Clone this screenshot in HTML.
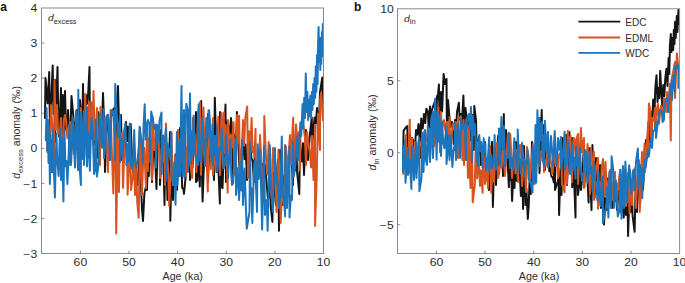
<!DOCTYPE html>
<html><head><meta charset="utf-8"><title>d-excess and d-ln anomalies</title>
<style>html,body{margin:0;padding:0;background:#fff}svg{display:block}text{font-family:"Liberation Sans",sans-serif}</style></head><body>
<svg width="685" height="283" viewBox="0 0 685 283">
<rect width="685" height="283" fill="#fff"/>
<clipPath id="ca"><rect x="41.5" y="8.0" width="282.0" height="245.5"/></clipPath>
<g clip-path="url(#ca)" fill="none" stroke-width="2" stroke-linejoin="round" stroke-linecap="round">
<path stroke="#151515" d="M45.0 118.0 L45.5 78.0 L47.6 103.3 L49.2 72.0 L50.0 135.0 L51.0 105.9 L52.7 65.5 L53.5 114.1 L55.0 80.0 L55.0 142.0 L57.5 67.0 L58.2 110.7 L59.2 136.4 L61.0 88.0 L62.0 150.0 L62.8 95.0 L63.9 129.1 L65.0 91.0 L66.0 129.2 L67.2 132.2 L68.0 110.0 L70.0 152.0 L70.7 123.3 L71.5 96.0 L73.3 115.8 L74.4 132.5 L75.2 127.8 L77.0 110.0 L77.2 150.0 L79.0 145.4 L80.0 100.0 L81.1 113.4 L82.5 125.5 L83.0 84.0 L84.0 145.0 L86.0 95.0 L87.0 104.0 L88.2 93.2 L89.5 67.0 L90.0 140.0 L91.7 137.7 L93.0 105.0 L93.7 145.2 L95.1 137.3 L95.9 137.8 L98.0 112.0 L98.0 158.0 L99.4 148.9 L100.6 128.1 L101.7 134.6 L103.0 93.0 L104.2 124.7 L105.0 172.0 L106.3 136.5 L108.0 118.0 L108.5 120.5 L110.0 160.0 L110.9 116.8 L112.2 114.7 L113.0 110.0 L114.3 107.7 L115.5 158.0 L116.9 113.1 L118.0 86.0 L118.9 120.5 L120.3 140.3 L121.0 115.0 L122.0 160.0 L123.9 158.5 L124.9 128.4 L126.0 122.0 L127.0 141.1 L128.1 126.7 L130.0 168.0 L130.7 124.0 L131.6 148.4 L133.1 171.9 L134.0 158.8 L135.3 174.1 L137.0 185.0 L137.7 184.6 L138.7 166.1 L140.0 128.0 L140.9 183.7 L142.0 208.7 L143.0 221.0 L144.4 193.4 L145.8 187.2 L147.0 190.0 L147.9 161.3 L148.8 175.9 L150.0 132.0 L151.3 159.0 L152.0 182.0 L153.6 140.3 L154.6 146.1 L156.5 189.0 L157.1 162.4 L158.0 134.5 L160.0 130.0 L160.0 185.0 L161.7 144.9 L163.0 144.4 L164.5 205.0 L165.3 148.1 L166.3 159.5 L167.5 200.0 L168.8 164.6 L170.0 132.0 L170.3 220.7 L171.8 157.5 L173.0 200.0 L174.5 167.2 L175.5 154.5 L177.0 190.0 L177.9 162.6 L179.0 176.1 L180.0 128.0 L181.3 161.1 L182.2 188.0 L183.3 188.5 L184.0 193.8 L185.6 177.3 L186.8 161.9 L188.3 168.8 L190.0 122.0 L190.0 180.0 L191.7 154.6 L192.5 167.1 L193.7 148.9 L196.0 112.0 L196.0 182.0 L197.3 180.4 L198.2 146.2 L199.8 186.6 L201.2 101.0 L202.1 181.1 L202.6 201.5 L204.4 151.1 L205.5 146.8 L206.5 155.7 L208.0 114.0 L208.0 182.0 L209.8 133.4 L210.9 157.4 L212.1 144.9 L214.0 180.0 L214.8 97.8 L215.7 126.4 L216.6 172.0 L217.8 155.1 L219.9 203.6 L220.0 112.0 L221.3 186.0 L222.5 188.3 L223.9 149.9 L225.5 104.4 L226.0 182.0 L227.4 121.4 L228.5 126.5 L229.4 139.7 L231.0 118.0 L231.9 126.6 L233.0 178.0 L233.9 134.1 L235.0 143.8 L236.2 141.1 L236.9 112.0 L238.8 154.6 L240.0 178.0 L240.9 165.6 L242.4 153.4 L243.5 134.0 L244.4 159.2 L245.6 144.6 L247.0 180.0 L248.0 156.8 L248.9 155.4 L250.0 140.0 L251.3 157.5 L252.6 160.8 L254.0 182.0 L254.9 149.5 L255.7 177.5 L257.0 161.4 L258.4 176.6 L259.2 167.4 L260.0 145.0 L262.0 195.0 L263.1 163.7 L263.9 170.5 L264.9 164.6 L266.4 180.5 L268.0 200.0 L268.8 195.9 L270.0 150.0 L270.7 206.1 L272.4 222.0 L273.3 173.1 L274.6 191.6 L276.0 205.0 L276.7 174.4 L278.0 159.9 L279.0 230.7 L280.0 150.0 L281.2 172.3 L283.0 205.0 L283.6 177.6 L284.9 174.6 L286.1 182.5 L286.9 172.5 L288.0 195.0 L289.1 166.0 L290.0 145.0 L291.4 156.4 L293.0 185.0 L293.7 146.3 L295.3 170.5 L296.4 145.3 L297.1 171.9 L299.3 194.0 L300.0 140.0 L300.6 151.4 L302.1 161.6 L303.0 143.3 L304.0 175.0 L306.0 130.0 L306.7 144.7 L308.0 160.0 L309.1 143.8 L310.0 133.0 L311.8 117.5 L312.0 150.0 L313.3 129.7 L314.6 117.6 L315.8 123.2 L317.0 108.0 L318.0 135.0 L319.2 115.6 L320.0 92.0 L322.3 77.5 L323.0 120.0"/>
<path stroke="#D8531E" d="M47.0 125.0 L47.0 150.0 L48.8 131.8 L49.9 142.0 L51.0 105.0 L52.2 124.1 L54.0 165.0 L54.5 80.5 L55.6 129.4 L57.0 105.0 L58.1 133.7 L59.2 130.1 L60.1 132.1 L61.0 118.0 L62.0 170.0 L63.9 119.7 L65.0 115.0 L66.0 120.2 L67.4 138.2 L68.1 131.3 L70.0 122.0 L70.0 165.0 L71.8 128.4 L72.7 145.7 L73.9 153.9 L75.3 133.7 L76.0 118.0 L77.4 145.3 L78.6 137.9 L80.0 160.0 L81.0 108.0 L82.0 143.0 L83.4 131.9 L84.4 143.7 L85.2 93.7 L86.7 156.3 L88.0 124.7 L89.0 102.0 L90.0 162.0 L91.5 102.4 L92.7 133.2 L93.5 91.0 L95.0 139.8 L95.9 135.5 L97.0 108.0 L98.2 141.1 L100.0 165.0 L100.4 107.0 L101.7 140.8 L103.1 133.7 L104.0 144.5 L105.0 118.0 L106.2 122.0 L108.0 172.0 L108.6 145.2 L109.5 146.0 L110.6 110.3 L111.8 150.3 L113.3 193.5 L115.0 122.0 L115.7 133.0 L116.2 233.4 L117.9 132.8 L119.0 192.0 L120.0 128.0 L121.3 147.4 L122.3 133.3 L123.0 188.0 L124.9 137.4 L125.8 142.6 L127.0 147.9 L127.6 194.8 L129.2 161.6 L130.0 132.0 L131.0 190.0 L132.9 175.5 L133.8 152.5 L135.0 195.0 L136.3 166.5 L137.2 202.0 L138.7 217.8 L140.0 130.0 L140.9 164.9 L142.0 195.0 L143.1 161.1 L144.2 147.7 L146.0 188.0 L147.0 125.0 L147.9 171.0 L148.7 138.6 L149.9 139.6 L150.9 139.9 L152.0 180.0 L153.0 117.5 L154.5 150.1 L155.7 147.0 L157.0 135.9 L158.0 126.0 L159.0 148.2 L160.0 178.0 L161.6 148.6 L162.5 161.6 L164.0 143.7 L165.0 185.0 L165.9 123.4 L167.3 154.2 L168.3 175.6 L169.2 205.6 L170.7 174.4 L171.4 132.0 L173.0 185.0 L174.4 179.3 L175.3 156.1 L176.5 164.9 L178.0 130.0 L178.9 151.7 L180.0 175.0 L180.9 147.7 L182.2 159.7 L183.3 158.2 L185.0 128.0 L186.0 176.0 L186.7 154.4 L187.8 144.9 L188.9 153.1 L190.1 163.0 L192.2 178.0 L193.0 118.0 L193.6 131.9 L194.7 134.4 L196.4 172.0 L197.0 145.9 L198.2 111.1 L199.9 102.3 L201.0 175.0 L201.8 134.4 L203.5 107.5 L204.3 143.5 L205.0 128.3 L206.2 149.2 L207.8 191.6 L208.5 110.2 L210.0 138.7 L210.8 169.1 L213.0 118.0 L213.0 175.0 L214.5 158.6 L215.3 154.8 L216.6 166.7 L218.3 116.8 L218.8 137.6 L220.0 175.0 L221.4 113.0 L222.5 151.8 L223.8 112.4 L224.5 153.3 L225.7 125.0 L227.7 192.7 L228.0 120.0 L229.2 145.5 L230.7 135.0 L231.6 148.0 L233.6 122.3 L234.0 175.0 L235.2 139.2 L236.5 148.1 L237.0 115.0 L238.4 143.3 L239.1 115.7 L240.0 176.0 L242.0 145.2 L243.0 120.0 L244.1 145.8 L245.3 118.0 L247.2 106.4 L248.0 178.0 L249.0 131.2 L250.2 153.1 L251.6 117.9 L252.6 152.6 L253.4 147.0 L254.6 156.8 L255.5 128.8 L256.0 182.0 L258.1 168.9 L259.4 168.9 L260.0 135.0 L261.7 167.5 L262.5 176.5 L264.0 190.0 L264.3 116.0 L266.0 157.5 L267.4 174.5 L268.7 142.0 L269.5 165.3 L270.7 191.7 L272.0 200.0 L273.0 148.0 L274.4 159.0 L275.5 168.9 L276.5 212.0 L277.7 177.8 L278.5 149.6 L279.7 183.3 L280.7 223.0 L282.3 185.5 L284.0 205.0 L285.0 145.0 L285.9 147.1 L287.1 159.1 L288.0 185.0 L289.3 144.4 L290.0 135.0 L291.4 163.9 L292.5 130.4 L293.2 117.7 L294.0 176.0 L296.0 124.5 L297.2 138.7 L299.0 132.0 L300.0 170.0 L300.5 133.9 L301.9 127.4 L302.6 122.3 L303.9 128.1 L305.1 139.9 L306.0 165.0 L307.0 132.0 L308.9 147.3 L310.0 153.2 L311.0 167.5 L312.0 136.0 L313.5 180.0 L315.0 125.0 L315.1 225.9 L316.8 175.0 L318.0 113.5 L320.0 150.0 L320.1 100.4 L321.2 92.8 L323.0 120.0"/>
<path stroke="#1C75BC" d="M45.8 140.0 L46.6 108.0 L47.3 152.0 L47.9 120.0 L48.5 163.0 L49.2 128.0 L49.9 184.0 L50.6 135.0 L51.3 172.0 L52.0 140.0 L52.5 172.0 L53.0 130.0 L53.7 165.3 L54.9 197.5 L56.4 134.0 L57.1 156.4 L58.6 176.0 L60.0 128.0 L61.0 180.0 L62.0 137.5 L63.4 201.4 L64.5 131.0 L65.4 166.2 L66.4 161.0 L67.4 184.0 L68.7 153.9 L69.6 124.5 L71.0 165.0 L72.1 142.3 L72.8 118.0 L75.0 167.5 L76.0 111.0 L78.0 170.0 L78.3 89.8 L79.4 163.9 L80.9 185.0 L81.0 112.0 L82.8 159.0 L83.8 111.0 L84.0 165.0 L87.0 107.0 L87.0 166.4 L88.4 132.4 L89.9 170.8 L90.5 137.1 L91.5 118.0 L92.9 133.1 L94.0 174.0 L95.1 169.7 L95.8 120.0 L96.9 176.5 L99.0 161.0 L99.6 113.5 L100.9 131.9 L102.1 147.7 L103.5 109.0 L104.0 158.0 L105.6 144.3 L106.5 116.2 L107.9 114.6 L109.0 131.5 L110.0 160.0 L111.6 110.0 L112.6 114.0 L113.7 110.8 L115.0 160.0 L115.2 84.0 L117.0 120.0 L118.3 136.4 L120.0 115.7 L120.0 162.0 L121.5 138.8 L122.7 156.4 L124.2 131.0 L125.4 123.4 L126.5 165.3 L127.5 144.2 L128.7 161.5 L129.8 123.4 L130.9 164.9 L132.0 168.6 L133.0 162.1 L134.2 130.0 L135.3 162.5 L136.3 167.5 L137.6 160.0 L139.0 143.5 L139.6 126.7 L141.5 141.6 L142.9 163.0 L143.6 125.4 L144.7 104.3 L145.7 139.6 L147.2 123.0 L148.0 120.0 L149.4 124.6 L150.0 162.0 L151.2 111.5 L152.9 119.6 L154.0 129.0 L156.0 124.5 L156.0 167.5 L157.3 125.1 L158.5 142.1 L159.5 120.8 L161.5 112.4 L161.5 174.0 L163.2 135.6 L164.5 144.9 L165.9 128.8 L165.9 180.7 L167.5 143.6 L168.8 150.5 L170.2 159.4 L171.4 133.2 L171.4 176.3 L173.5 185.0 L174.5 162.6 L175.5 204.8 L176.9 132.0 L177.5 185.0 L179.3 139.2 L180.0 176.0 L181.5 86.0 L182.5 176.0 L184.0 110.0 L184.5 178.0 L186.3 103.8 L188.0 112.0 L188.0 172.0 L190.0 93.5 L191.0 163.0 L191.8 131.4 L192.8 155.9 L193.6 115.7 L195.1 153.2 L196.7 160.6 L198.0 165.0 L198.6 104.5 L199.7 159.6 L200.9 161.7 L202.0 118.0 L203.5 140.9 L204.4 156.4 L205.0 166.0 L206.3 117.9 L207.8 137.6 L209.1 110.3 L210.1 123.3 L211.5 161.4 L212.8 124.5 L212.8 165.0 L214.8 135.9 L216.1 160.2 L217.0 128.0 L217.2 172.0 L219.4 147.7 L220.8 151.2 L221.6 128.8 L223.1 158.1 L223.8 168.0 L225.4 163.5 L226.0 135.0 L227.4 155.7 L228.0 178.0 L230.4 139.8 L231.2 174.4 L232.0 185.0 L233.2 183.1 L234.3 155.8 L236.0 138.0 L236.0 195.0 L237.6 167.9 L239.1 200.0 L240.3 162.3 L241.5 190.6 L242.0 140.0 L243.0 205.0 L244.7 168.5 L245.9 207.9 L246.8 228.7 L249.5 212.0 L250.0 142.0 L250.6 186.9 L251.5 189.0 L252.3 223.0 L254.1 164.6 L255.0 160.4 L257.0 212.0 L257.7 144.2 L258.7 178.9 L259.5 150.2 L260.6 168.0 L262.1 229.6 L263.1 190.0 L264.0 146.0 L265.0 215.0 L266.8 200.1 L267.6 230.7 L269.1 167.5 L269.8 145.3 L271.2 190.1 L272.1 202.4 L273.0 212.0 L275.0 148.0 L275.6 183.8 L276.7 171.8 L278.1 188.6 L279.0 208.0 L280.2 196.6 L281.8 136.5 L282.7 197.9 L283.9 195.7 L285.1 216.5 L285.5 146.0 L287.0 208.0 L289.5 146.4 L289.5 217.6 L290.9 195.8 L292.0 200.0 L293.0 142.0 L294.0 175.0 L295.3 164.1 L296.3 148.8 L297.1 136.5 L298.0 160.0 L300.4 122.3 L301.2 136.0 L302.6 104.0 L303.4 128.0 L304.2 98.0 L305.0 118.0 L305.8 73.4 L306.6 112.0 L307.4 92.0 L308.2 120.0 L309.0 100.0 L309.7 116.0 L310.3 96.0 L311.0 118.0 L311.8 92.0 L312.5 110.0 L313.2 84.0 L313.9 104.0 L314.5 78.0 L315.2 98.0 L315.8 66.6 L316.4 92.0 L317.0 55.0 L317.6 84.0 L318.1 44.0 L318.6 26.9 L319.2 62.0 L319.8 40.0 L320.3 70.0 L320.7 38.0 L321.3 64.0 L321.9 32.0 L322.4 56.0 L322.8 24.0 L323.2 50.0"/>
</g>
<clipPath id="cb"><rect x="397.5" y="8.8" width="282.1" height="244.7"/></clipPath>
<g clip-path="url(#cb)" fill="none" stroke-width="2" stroke-linejoin="round" stroke-linecap="round">
<path stroke="#151515" d="M403.0 165.0 L403.6 130.7 L405.5 128.0 L407.3 126.0 L407.9 157.1 L408.8 157.8 L410.0 134.0 L410.0 162.0 L412.0 138.0 L413.5 141.5 L414.8 152.3 L416.0 130.0 L417.2 134.7 L418.5 124.0 L419.1 125.3 L420.0 158.0 L421.2 118.5 L422.7 128.6 L424.0 114.0 L425.3 123.0 L426.3 108.8 L428.0 112.0 L428.6 127.3 L430.0 106.4 L430.0 150.0 L431.7 111.1 L432.5 108.0 L435.5 99.9 L436.0 142.0 L437.0 96.0 L437.7 99.0 L438.9 84.6 L440.0 138.0 L441.0 92.0 L442.1 111.5 L443.6 74.0 L445.0 84.0 L446.5 79.0 L447.0 142.0 L448.0 100.0 L449.5 118.0 L450.4 127.1 L452.0 122.0 L452.5 123.5 L453.7 143.8 L455.0 120.0 L455.0 150.0 L457.0 112.0 L458.9 102.8 L459.6 119.6 L461.0 114.0 L461.8 125.9 L463.4 95.5 L465.0 155.0 L465.5 108.0 L466.3 115.0 L467.5 118.0 L468.7 132.4 L470.0 122.0 L471.0 140.7 L472.5 115.0 L473.8 150.0 L474.3 106.0 L476.0 120.0 L477.0 158.0 L478.1 146.1 L479.0 137.0 L480.0 151.4 L481.0 165.0 L482.4 152.1 L483.8 169.0 L485.0 142.0 L485.0 182.0 L487.2 170.4 L488.1 166.1 L489.0 190.0 L490.4 167.4 L492.0 142.0 L492.9 207.0 L494.2 158.1 L495.0 148.5 L496.0 185.0 L498.0 136.0 L498.0 172.0 L499.8 156.9 L501.5 128.0 L503.0 176.0 L503.8 114.0 L504.4 158.0 L506.0 130.0 L506.8 145.6 L508.9 187.2 L509.0 137.0 L510.3 180.2 L511.2 172.5 L512.1 201.0 L513.6 168.7 L514.5 188.0 L516.0 142.0 L516.5 180.7 L518.1 169.3 L519.3 161.8 L520.9 196.0 L521.9 162.1 L523.1 209.0 L524.0 146.0 L525.5 205.0 L526.4 188.6 L527.8 219.0 L528.7 206.5 L529.6 178.5 L530.8 194.0 L532.0 142.0 L533.0 183.1 L535.0 182.0 L535.6 167.6 L537.0 128.0 L538.0 137.5 L539.5 118.0 L539.5 173.0 L541.7 110.0 L542.5 160.5 L544.0 125.0 L545.0 170.0 L546.0 148.9 L546.7 159.6 L548.0 134.0 L549.3 171.3 L550.2 168.2 L551.4 176.3 L552.7 177.7 L553.9 182.4 L555.0 138.0 L555.0 190.0 L557.5 182.4 L558.6 177.8 L559.1 215.0 L560.5 168.0 L561.5 195.0 L563.0 138.0 L563.9 189.4 L565.5 159.9 L566.5 135.0 L567.0 185.0 L569.4 132.0 L570.0 164.2 L572.0 138.0 L572.2 187.2 L573.5 163.3 L575.5 217.5 L576.0 142.0 L576.7 155.0 L578.0 195.0 L579.3 184.3 L580.1 161.1 L581.0 190.0 L582.7 172.7 L584.0 142.0 L584.3 187.2 L586.0 153.8 L587.1 171.6 L588.6 202.5 L589.0 148.0 L591.5 210.0 L592.4 145.0 L593.2 164.4 L594.5 198.0 L595.4 182.1 L596.0 158.0 L598.0 200.0 L598.7 179.7 L600.0 165.0 L601.0 208.0 L602.2 189.0 L603.5 179.1 L604.0 224.6 L605.5 198.3 L607.0 210.0 L607.8 178.6 L609.0 191.2 L610.0 172.0 L611.3 183.4 L612.0 208.0 L613.7 185.6 L615.0 200.7 L615.9 186.0 L617.0 210.0 L618.3 195.3 L620.0 172.0 L621.0 212.0 L621.9 187.8 L622.8 207.5 L623.7 217.6 L625.0 196.1 L626.0 215.0 L627.6 204.0 L628.1 236.0 L630.0 174.0 L630.5 212.0 L631.9 185.2 L632.5 215.0 L634.6 231.8 L635.7 184.5 L637.0 212.0 L638.0 168.0 L638.8 186.2 L640.0 205.0 L641.2 187.1 L643.0 155.0 L643.0 190.0 L644.6 157.7 L646.0 140.0 L647.2 158.0 L648.5 122.0 L649.5 142.0 L650.5 112.0 L651.5 135.0 L653.2 99.4 L654.3 120.0 L655.3 88.0 L656.5 75.3 L657.5 102.0 L658.5 88.0 L659.3 98.0 L660.2 70.9 L661.3 92.0 L662.3 106.0 L663.3 85.0 L664.3 96.0 L665.3 78.0 L666.4 68.8 L667.5 86.0 L668.6 58.0 L669.3 74.0 L669.9 46.0 L670.8 34.0 L671.5 52.0 L672.5 38.0 L673.2 50.0 L673.8 30.0 L674.5 44.0 L675.0 22.0 L675.7 38.0 L676.8 16.0 L677.4 32.0 L678.4 10.0 L679.0 24.0 L679.5 9.0"/>
<path stroke="#D8531E" d="M403.0 148.0 L403.3 174.0 L406.0 135.0 L406.0 170.0 L407.4 154.3 L408.6 148.9 L409.8 119.8 L410.0 172.0 L412.0 138.0 L413.0 155.8 L414.1 167.2 L415.0 142.0 L416.0 168.0 L417.6 153.9 L419.0 138.0 L419.9 145.3 L421.2 142.8 L422.0 165.0 L424.0 132.0 L424.7 143.8 L425.8 138.8 L426.8 140.4 L428.0 128.0 L429.1 128.7 L430.0 158.0 L431.4 141.1 L432.0 122.0 L434.1 145.9 L435.0 115.0 L436.0 142.8 L437.1 140.4 L438.4 107.6 L440.0 152.0 L441.0 112.0 L441.7 133.1 L443.1 121.6 L444.0 120.0 L445.4 130.9 L447.0 122.0 L447.9 131.1 L448.7 137.6 L449.7 117.0 L450.0 155.0 L452.5 125.3 L453.0 124.0 L454.5 130.4 L456.0 122.0 L456.8 129.7 L458.0 158.0 L458.5 118.5 L460.9 116.4 L461.4 134.3 L462.4 159.9 L463.5 120.0 L464.0 165.0 L466.5 119.0 L468.0 178.0 L469.0 126.0 L469.7 167.5 L470.5 188.0 L472.0 130.0 L472.7 202.3 L474.8 185.0 L475.5 153.1 L477.0 142.0 L477.1 178.5 L478.6 156.2 L480.0 186.0 L481.0 170.6 L482.6 192.8 L483.0 146.0 L484.3 167.0 L485.0 184.0 L486.6 166.7 L488.0 188.0 L489.0 149.1 L490.0 146.0 L491.3 192.8 L492.5 162.5 L494.0 182.0 L495.0 160.4 L495.8 158.9 L497.0 143.0 L498.0 178.0 L499.2 173.4 L500.5 156.0 L501.7 167.8 L503.0 140.0 L503.9 159.4 L505.0 176.0 L506.5 155.8 L507.8 133.5 L508.6 150.6 L510.3 134.0 L510.9 146.5 L512.0 178.0 L513.4 159.1 L514.0 142.0 L515.5 173.3 L516.6 149.9 L518.0 182.0 L519.1 147.3 L520.0 145.0 L521.1 153.3 L522.0 186.0 L523.7 164.1 L524.6 160.1 L526.0 192.0 L527.0 147.0 L528.4 155.2 L529.3 164.3 L530.0 182.0 L531.5 161.2 L533.0 144.0 L533.9 162.6 L535.1 170.2 L536.0 176.0 L538.0 138.0 L538.6 163.3 L539.8 160.6 L540.9 151.7 L542.1 152.8 L543.0 136.0 L544.0 172.0 L545.3 160.4 L546.3 165.6 L548.0 140.0 L548.7 151.3 L549.9 157.4 L551.3 164.5 L552.0 174.0 L553.4 163.1 L555.0 140.0 L555.6 166.1 L556.7 161.0 L558.0 178.0 L559.0 154.7 L560.5 152.5 L561.0 140.0 L562.0 184.0 L564.6 192.4 L565.0 135.0 L567.0 184.0 L567.8 130.7 L568.2 153.7 L569.8 138.1 L570.5 136.0 L572.0 182.0 L573.2 140.8 L574.0 138.0 L575.5 155.4 L576.3 139.2 L578.0 134.0 L578.0 184.0 L580.0 144.7 L581.0 128.0 L582.0 152.3 L584.0 138.0 L584.0 188.0 L585.8 157.6 L586.8 160.0 L587.5 144.0 L590.0 194.0 L590.8 148.0 L591.6 152.5 L592.7 191.5 L594.0 152.0 L594.0 200.0 L596.1 166.6 L598.0 158.0 L598.0 208.8 L599.7 182.3 L601.0 200.0 L601.7 167.3 L603.0 159.0 L605.0 196.0 L605.5 162.0 L606.3 180.4 L607.3 190.0 L608.5 181.5 L610.0 170.0 L610.9 189.7 L612.0 200.0 L613.2 183.0 L615.0 172.0 L615.6 193.0 L617.0 204.0 L617.9 183.5 L619.0 189.8 L620.0 170.0 L621.4 182.0 L622.0 205.0 L623.6 178.1 L625.0 170.0 L626.0 206.0 L627.2 186.5 L628.3 172.9 L629.6 213.2 L630.0 170.0 L632.0 205.0 L632.7 182.5 L633.7 190.6 L635.0 168.0 L636.0 208.0 L637.3 181.7 L639.0 160.0 L639.7 212.0 L641.0 175.9 L642.0 152.0 L642.0 195.0 L644.5 143.8 L645.0 172.0 L647.8 128.5 L648.0 150.0 L648.9 103.5 L650.5 112.0 L651.0 140.0 L652.5 118.0 L653.6 120.6 L655.0 108.0 L655.0 130.0 L657.2 107.5 L658.0 104.0 L659.0 124.0 L660.5 108.7 L661.0 106.0 L663.0 118.0 L664.0 98.0 L664.8 101.8 L666.0 112.0 L667.0 92.0 L668.5 112.0 L669.7 84.0 L670.8 140.5 L671.5 80.0 L672.9 73.0 L675.0 62.0 L675.0 98.0 L676.9 53.6 L678.3 66.0 L679.5 78.0"/>
<path stroke="#1C75BC" d="M403.0 146.0 L403.0 172.0 L404.9 140.5 L405.5 182.8 L408.0 148.0 L408.0 175.0 L409.7 160.1 L411.4 189.0 L412.0 146.0 L413.2 159.9 L414.0 180.0 L416.0 142.0 L416.5 178.0 L417.8 150.6 L419.0 138.0 L419.4 191.2 L421.5 178.0 L422.4 132.8 L423.5 172.0 L425.0 130.0 L425.6 158.6 L427.0 165.0 L427.8 126.3 L429.4 153.9 L430.0 162.0 L431.1 119.7 L433.0 112.0 L433.0 158.0 L435.2 98.4 L436.6 159.8 L437.5 112.0 L438.7 141.4 L439.5 116.0 L441.0 156.0 L442.0 121.9 L443.2 142.2 L444.4 148.3 L445.3 136.6 L446.5 126.3 L446.5 164.0 L448.9 136.1 L449.5 160.0 L450.8 135.0 L452.4 167.0 L453.4 151.7 L454.5 145.8 L455.2 121.9 L456.0 160.0 L458.0 124.0 L460.0 158.0 L460.7 118.6 L461.3 126.0 L462.4 129.4 L463.5 124.0 L464.8 125.1 L466.0 160.0 L466.2 120.8 L468.8 114.0 L469.7 128.9 L471.0 107.0 L472.0 162.0 L473.0 116.0 L474.3 135.0 L474.9 124.0 L476.5 153.4 L478.0 166.0 L479.3 135.0 L480.0 151.0 L481.2 142.1 L482.6 167.5 L483.7 138.3 L484.6 152.4 L485.4 143.7 L486.0 170.0 L488.1 156.1 L489.2 137.2 L489.2 172.0 L491.4 155.2 L492.0 168.0 L493.7 162.5 L494.6 135.0 L495.7 169.7 L497.3 163.2 L498.0 153.5 L499.0 128.5 L500.0 165.0 L501.4 117.0 L503.0 149.5 L504.0 126.0 L505.0 166.0 L506.1 156.0 L507.6 157.9 L508.9 132.8 L510.0 168.0 L510.7 157.4 L512.0 158.4 L513.2 169.7 L514.3 138.3 L515.5 154.9 L517.6 172.0 L517.7 129.5 L518.8 158.4 L519.9 159.9 L521.0 174.0 L522.0 142.7 L523.7 160.8 L524.2 176.3 L526.0 161.0 L527.1 163.5 L527.5 150.4 L528.6 178.5 L530.5 182.0 L532.5 192.5 L532.9 147.0 L534.5 184.0 L535.5 125.0 L536.2 182.8 L537.4 110.3 L539.4 166.0 L539.5 118.0 L540.8 140.2 L542.0 122.0 L542.9 158.0 L544.0 166.0 L544.9 120.8 L546.5 151.6 L548.0 132.0 L548.1 167.5 L549.8 156.6 L551.0 136.0 L552.2 153.9 L553.0 166.0 L554.7 130.9 L555.5 152.1 L556.9 165.0 L558.0 138.0 L559.1 149.7 L561.0 137.0 L561.0 168.0 L562.8 155.5 L564.6 131.8 L564.6 169.7 L566.3 163.6 L567.2 155.5 L568.0 140.0 L570.0 174.0 L570.7 161.2 L572.2 143.8 L573.2 169.8 L574.3 157.3 L575.5 178.5 L576.0 146.0 L577.5 164.6 L578.6 167.7 L580.0 148.0 L580.9 169.6 L582.0 180.7 L583.6 172.6 L584.3 171.9 L585.0 150.0 L586.7 154.3 L587.5 182.8 L589.7 152.0 L590.1 173.7 L591.3 166.8 L593.0 191.6 L594.0 162.0 L595.0 179.8 L596.2 182.5 L597.4 200.4 L598.5 172.0 L599.2 191.4 L600.5 206.0 L601.6 183.2 L602.9 176.3 L602.9 223.1 L605.5 210.0 L606.5 203.4 L607.3 187.2 L608.4 217.6 L609.5 172.0 L611.0 208.0 L611.6 156.3 L613.5 172.0 L614.0 208.0 L615.4 183.1 L616.0 180.7 L617.8 216.5 L619.5 210.0 L620.4 169.7 L621.5 218.7 L623.0 166.0 L624.0 208.0 L624.6 183.9 L625.4 161.5 L627.0 202.5 L628.0 177.1 L629.2 165.3 L630.6 183.8 L631.3 193.8 L632.8 172.0 L633.5 169.7 L635.0 190.0 L636.0 162.0 L637.9 148.5 L638.5 188.0 L640.0 165.0 L641.0 176.4 L642.3 197.9 L642.5 168.0 L643.5 182.0 L645.0 160.0 L645.6 167.5 L648.0 150.0 L648.9 156.6 L650.5 140.0 L651.0 139.6 L652.0 148.0 L653.2 131.0 L654.6 130.4 L656.0 122.0 L656.0 138.0 L657.9 121.6 L658.7 117.5 L659.8 110.4 L662.0 112.0 L662.6 121.9 L664.0 120.0 L664.2 108.0 L666.4 98.3 L668.0 102.0 L668.0 112.0 L669.7 92.0 L671.9 80.8 L672.0 100.0 L673.5 75.0 L675.0 92.0 L675.1 66.0 L676.8 68.0 L678.4 64.4 L678.4 88.0"/>
</g>
<rect x="41.5" y="8.0" width="282.0" height="245.5" fill="none" stroke="#8a8a8a" stroke-width="1"/>
<rect x="397.5" y="8.8" width="282.1" height="244.7" fill="none" stroke="#8a8a8a" stroke-width="1"/>
<path d="M80.4 253.5 v-2.8 M129.0 253.5 v-2.8 M177.6 253.5 v-2.8 M226.3 253.5 v-2.8 M274.9 253.5 v-2.8 M436.4 253.5 v-2.8 M485.0 253.5 v-2.8 M533.7 253.5 v-2.8 M582.3 253.5 v-2.8 M631.0 253.5 v-2.8 M41.5 43.1 h2.8 M41.5 78.1 h2.8 M41.5 113.2 h2.8 M41.5 148.3 h2.8 M41.5 183.4 h2.8 M41.5 218.4 h2.8 M397.5 80.8 h2.8 M397.5 152.7 h2.8 M397.5 224.7 h2.8" stroke="#8a8a8a" stroke-width="1" fill="none"/>
<text transform="translate(80.40 266.00) scale(1.220 1)" font-size="10" text-anchor="middle" font-weight="normal" font-style="normal" fill="#2b2b2b">60</text>
<text transform="translate(129.02 266.00) scale(1.220 1)" font-size="10" text-anchor="middle" font-weight="normal" font-style="normal" fill="#2b2b2b">50</text>
<text transform="translate(177.64 266.00) scale(1.220 1)" font-size="10" text-anchor="middle" font-weight="normal" font-style="normal" fill="#2b2b2b">40</text>
<text transform="translate(226.26 266.00) scale(1.220 1)" font-size="10" text-anchor="middle" font-weight="normal" font-style="normal" fill="#2b2b2b">30</text>
<text transform="translate(274.88 266.00) scale(1.220 1)" font-size="10" text-anchor="middle" font-weight="normal" font-style="normal" fill="#2b2b2b">20</text>
<text transform="translate(323.50 266.00) scale(1.220 1)" font-size="10" text-anchor="middle" font-weight="normal" font-style="normal" fill="#2b2b2b">10</text>
<text transform="translate(436.41 266.00) scale(1.220 1)" font-size="10" text-anchor="middle" font-weight="normal" font-style="normal" fill="#2b2b2b">60</text>
<text transform="translate(485.05 266.00) scale(1.220 1)" font-size="10" text-anchor="middle" font-weight="normal" font-style="normal" fill="#2b2b2b">50</text>
<text transform="translate(533.69 266.00) scale(1.220 1)" font-size="10" text-anchor="middle" font-weight="normal" font-style="normal" fill="#2b2b2b">40</text>
<text transform="translate(582.32 266.00) scale(1.220 1)" font-size="10" text-anchor="middle" font-weight="normal" font-style="normal" fill="#2b2b2b">30</text>
<text transform="translate(630.96 266.00) scale(1.220 1)" font-size="10" text-anchor="middle" font-weight="normal" font-style="normal" fill="#2b2b2b">20</text>
<text transform="translate(679.60 266.00) scale(1.220 1)" font-size="10" text-anchor="middle" font-weight="normal" font-style="normal" fill="#2b2b2b">10</text>
<text transform="translate(37.20 12.20) scale(1.220 1)" font-size="10" text-anchor="end" font-weight="normal" font-style="normal" fill="#2b2b2b">4</text>
<text transform="translate(37.20 47.27) scale(1.220 1)" font-size="10" text-anchor="end" font-weight="normal" font-style="normal" fill="#2b2b2b">3</text>
<text transform="translate(37.20 82.34) scale(1.220 1)" font-size="10" text-anchor="end" font-weight="normal" font-style="normal" fill="#2b2b2b">2</text>
<text transform="translate(37.20 117.41) scale(1.220 1)" font-size="10" text-anchor="end" font-weight="normal" font-style="normal" fill="#2b2b2b">1</text>
<text transform="translate(37.20 152.49) scale(1.220 1)" font-size="10" text-anchor="end" font-weight="normal" font-style="normal" fill="#2b2b2b">0</text>
<text transform="translate(37.20 187.56) scale(1.220 1)" font-size="10" text-anchor="end" font-weight="normal" font-style="normal" fill="#2b2b2b">−1</text>
<text transform="translate(37.20 222.63) scale(1.220 1)" font-size="10" text-anchor="end" font-weight="normal" font-style="normal" fill="#2b2b2b">−2</text>
<text transform="translate(37.20 257.70) scale(1.220 1)" font-size="10" text-anchor="end" font-weight="normal" font-style="normal" fill="#2b2b2b">−3</text>
<text transform="translate(393.70 13.00) scale(1.220 1)" font-size="10" text-anchor="end" font-weight="normal" font-style="normal" fill="#2b2b2b">10</text>
<text transform="translate(393.70 84.97) scale(1.220 1)" font-size="10" text-anchor="end" font-weight="normal" font-style="normal" fill="#2b2b2b">5</text>
<text transform="translate(393.70 156.94) scale(1.220 1)" font-size="10" text-anchor="end" font-weight="normal" font-style="normal" fill="#2b2b2b">0</text>
<text transform="translate(393.70 228.91) scale(1.220 1)" font-size="10" text-anchor="end" font-weight="normal" font-style="normal" fill="#2b2b2b">−5</text>
<text transform="translate(182.70 280.20) scale(1.070 1)" font-size="10" text-anchor="middle" font-weight="normal" font-style="normal" fill="#2b2b2b">Age (ka)</text>
<text transform="translate(539.00 280.20) scale(1.070 1)" font-size="10" text-anchor="middle" font-weight="normal" font-style="normal" fill="#2b2b2b">Age (ka)</text>
<text transform="translate(19.8 132.4) rotate(-90) scale(1.05 1)" font-size="10" text-anchor="middle" fill="#2b2b2b"><tspan font-style="italic">d</tspan><tspan font-size="7.3" dy="2.8">excess</tspan><tspan dy="-2.8"> anomaly (‰)</tspan></text>
<text transform="translate(376.3 132.4) rotate(-90) scale(1.07 1)" font-size="10" text-anchor="middle" fill="#2b2b2b"><tspan font-style="italic">d</tspan><tspan font-size="7.3" dy="2.8">ln</tspan><tspan dy="-2.8"> anomaly (‰)</tspan></text>
<text transform="translate(0.20 10.90)" font-size="12" text-anchor="start" font-weight="bold" font-style="normal" fill="#111">a</text>
<text transform="translate(354.00 10.90)" font-size="12" text-anchor="start" font-weight="bold" font-style="normal" fill="#111">b</text>
<text transform="translate(48 21) scale(1.05 1)" font-size="9.8" fill="#2b2b2b"><tspan font-style="italic">d</tspan><tspan font-size="7.0" dy="2.8">excess</tspan></text>
<text transform="translate(404 21.5) scale(1.05 1)" font-size="9.8" fill="#2b2b2b"><tspan font-style="italic">d</tspan><tspan font-size="7.2" dy="2.8">ln</tspan></text>
<path d="M578.4 21.6 H620.2" stroke="#151515" stroke-width="1.8" fill="none"/>
<text transform="translate(625.30 25.90)" font-size="10" text-anchor="start" font-weight="normal" font-style="normal" fill="#2b2b2b">EDC</text>
<path d="M578.4 37.5 H620.2" stroke="#D8531E" stroke-width="1.8" fill="none"/>
<text transform="translate(625.30 41.80)" font-size="10" text-anchor="start" font-weight="normal" font-style="normal" fill="#2b2b2b">EDML</text>
<path d="M578.4 52.9 H620.2" stroke="#1C75BC" stroke-width="1.8" fill="none"/>
<text transform="translate(625.30 57.20)" font-size="10" text-anchor="start" font-weight="normal" font-style="normal" fill="#2b2b2b">WDC</text>
</svg></body></html>
